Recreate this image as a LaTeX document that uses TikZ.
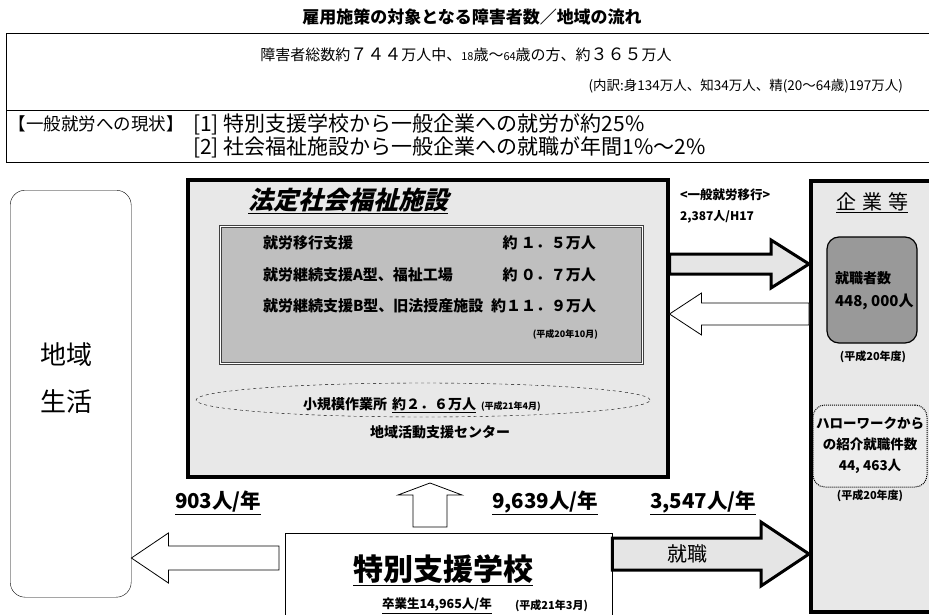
\documentclass[tikz,border=0pt]{standalone}
\usepackage{fontspec}
\setmainfont{Noto Sans CJK JP}
\newfontfamily\jpslant[FakeSlant=0.25]{Noto Sans CJK JP}
\usetikzlibrary{shapes.geometric}
\newcommand{\fsz}[1]{\fontsize{#1}{#1}\selectfont}
% horizontal block arrow: style, start, tip, half shaft, half head, head length (signed)
\newcommand{\myharrow}[6]{%
  \draw[#1] ([yshift=#4]#2) -- ([xshift={-(#6)},yshift=#4]#3) -- ([xshift={-(#6)},yshift=#5]#3) -- (#3)
   -- ([xshift={-(#6)},yshift={-(#5)}]#3) -- ([xshift={-(#6)},yshift={-(#4)}]#3) -- ([yshift={-(#4)}]#2) -- cycle;}
% vertical (upward) block arrow
\newcommand{\myvarrow}[6]{%
  \draw[#1] ([xshift=#4]#2) -- ([yshift={-(#6)},xshift=#4]#3) -- ([yshift={-(#6)},xshift=#5]#3) -- (#3)
   -- ([yshift={-(#6)},xshift={-(#5)}]#3) -- ([yshift={-(#6)},xshift={-(#4)}]#3) -- ([xshift={-(#4)}]#2) -- cycle;}
\tikzset{
  box/.style={draw, thin, anchor=north west, inner sep=0pt},
  heavybox/.style={draw, line width=3.5pt, anchor=north west, inner sep=0pt},
  txt/.style={inner sep=0pt, outer sep=0pt},
  heavyarrow/.style={draw, line width=3pt, fill=black!10, line join=miter},
  lightarrow/.style={draw, line width=0.8pt, fill=white, line join=miter},
}
\begin{document}
\begin{tikzpicture}[x=1pt,y=-1pt]
\useasboundingbox (0,0) rectangle (929,615);
\clip (0,0) rectangle (929,615);
\fill[white] (0,0) rectangle (929,615);

% ---------- header ----------
\node[txt] (title) at (472,17) {\fsz{17}\bfseries 雇用施策の対象となる障害者数／地域の流れ};
\node[box, minimum width=940, minimum height=77] (topA) at (6,33) {};
\node[box, minimum width=940, minimum height=52] (topB) at (6,110) {};
\node[txt] (total) at (466,55) {\fsz{15}障害者総数約{\fsz{17}７４４}万人中、{\fsz{11}18}歳〜{\fsz{11}64}歳の方、約{\fsz{17}３６５}万人};
\node[txt, anchor=east] (breakdown) at (903,86) {\fsz{13.5}(内訳:身134万人、知34万人、精(20〜64歳)197万人)};
\node[txt, anchor=west] (now) at (9,124) {\fsz{17.5}【一般就労への現状】};
\node[txt, anchor=west] (now1) at (193,124) {\fsz{21}[1]\hspace{5pt}特別支援学校から一般企業への就労が約25\%};
\node[txt, anchor=west] (now2) at (193,147) {\fsz{21}[2]\hspace{5pt}社会福祉施設から一般企業への就職が年間1\%〜2\%};

% ---------- left: community life ----------
\node[box, rounded corners=15, minimum width=121, minimum height=407] (life) at (10,190) {};
\node[txt] (life1) at (66,355) {\fsz{26}地域};
\node[txt] (life2) at (66,402) {\fsz{26}生活};

% ---------- centre: welfare facilities ----------
\node[heavybox, fill=black!9, minimum width=480, minimum height=297] (fac) at (186,178) {};
\node[txt] (factitle) at (348,201) {\fsz{25}\jpslant\bfseries\underline{法定社会福祉施設}};
\node[box, draw=black!75, line width=0.8pt, double, double distance=1.2pt, fill=black!25,
      minimum width=422, minimum height=137] (inner) at (220,226) {};
\node[txt, anchor=west] (r1) at (263,243) {\fsz{15}\bfseries 就労移行支援};
\node[txt, anchor=west] (r2) at (263,275) {\fsz{15}\bfseries 就労継続支援A型、福祉工場};
\node[txt, anchor=west] (r3) at (263,306) {\fsz{15}\bfseries 就労継続支援B型、旧法授産施設};
\node[txt, anchor=east] (v1) at (596,243) {\fsz{15}\bfseries 約 １．５万人};
\node[txt, anchor=east] (v2) at (596,275) {\fsz{15}\bfseries 約 ０．７万人};
\node[txt, anchor=east] (v3) at (596,306) {\fsz{15}\bfseries 約１１．９万人};
\node[txt, anchor=east] (date1) at (598,334) {\fsz{9}\bfseries (平成20年10月)};
\node[draw, dashed, thin, ellipse, minimum width=454, minimum height=34, inner sep=0pt] (small) at (423,400) {};
\node[txt, anchor=west] (smalltxt) at (303,405) {\fsz{14}\bfseries 小規模作業所\hspace{5pt}\underline{約２．６万人}\hspace{5pt}{\fsz{9}(平成21年4月)}};
\node[txt] (center) at (440,432) {\fsz{14}\bfseries 地域活動支援センター};

% ---------- right: companies ----------
\node[heavybox, fill=black!9, minimum width=140, minimum height=431] (corp) at (809,179) {};
\node[txt] (corptitle) at (872,203) {\fsz{20}\underline{企\hspace{6pt}業\hspace{6pt}等}};
\node[draw, line width=1.2pt, rounded corners=12, fill=black!40, minimum width=90, minimum height=106, inner sep=0pt] (emp) at (872,290) {};
\node[txt, anchor=west] (emp1) at (835,278) {\fsz{14}\bfseries 就職者数};
\node[txt, anchor=west] (emp2) at (835,302) {\fsz{15}\bfseries 448, 000人};
\node[txt] (empdate) at (873,357) {\fsz{11}\bfseries (平成20年度)};
\node[draw, densely dotted, line width=1pt, rounded corners=12, fill=black!7, minimum width=114, minimum height=82, inner sep=0pt] (hw) at (870,446) {};
\node[txt] (hw1) at (870,423) {\fsz{13.5}\bfseries ハローワークから};
\node[txt] (hw2) at (870,444) {\fsz{13.5}\bfseries の紹介就職件数};
\node[txt] (hw3) at (870,466) {\fsz{13.5}\bfseries 44, 463人};
\node[txt] (hwdate) at (870,496) {\fsz{11}\bfseries (平成20年度)};

\node[txt, anchor=west] (trans1) at (680,195) {\fsz{12.5}\bfseries <一般就労移行>};
\node[txt, anchor=west] (trans2) at (680,217) {\fsz{12}\bfseries 2,387人/H17};

% ---------- bottom: special needs school ----------
\node[box, fill=white, minimum width=327, minimum height=100] (school) at (285,533) {};
\node[txt] (schooltitle) at (443,570) {\fsz{30}\bfseries\underline{特別支援学校}};
\node[txt, anchor=west] (grad) at (382,606) {\fsz{12.5}\bfseries\underline{卒業生14,965人/年}};
\node[txt, anchor=west] (graddate) at (515,606) {\fsz{11}\bfseries (平成21年3月)};

\node[txt, anchor=west] (n903) at (175,503) {\fsz{20.5}\bfseries\underline{903人/年}};
\node[txt, anchor=west] (n9639) at (492,503) {\fsz{20.5}\bfseries\underline{9,639人/年}};
\node[txt, anchor=west] (n3547) at (650,503) {\fsz{20.5}\bfseries\underline{3,547人/年}};

% ---------- block arrows ----------
\coordinate (a1s) at (fac.east |- 0,264);
\coordinate (a1t) at (corp.west |- 0,264);
\myharrow{heavyarrow}{a1s}{a1t}{10}{24}{38}
\coordinate (a2s) at (corp.west |- 0,314);
\coordinate (a2t) at (fac.east |- 0,314);
\myharrow{lightarrow}{a2s}{a2t}{11}{21}{-32}
\coordinate (a3s) at (430,527);
\coordinate (a3t) at (430,483);
\myvarrow{lightarrow}{a3s}{a3t}{17}{32}{12}
\coordinate (a4s) at (279,558);
\coordinate (a4t) at (life.east |- 0,558);
\myharrow{lightarrow}{a4s}{a4t}{12}{25}{-37}
\coordinate (a5s) at (school.east |- 0,554);
\coordinate (a5t) at (corp.west |- 0,554);
\myharrow{heavyarrow}{a5s}{a5t}{16}{32}{48}
\node[txt] (job) at (687,554) {\fsz{20}就職};
\end{tikzpicture}
\end{document}
